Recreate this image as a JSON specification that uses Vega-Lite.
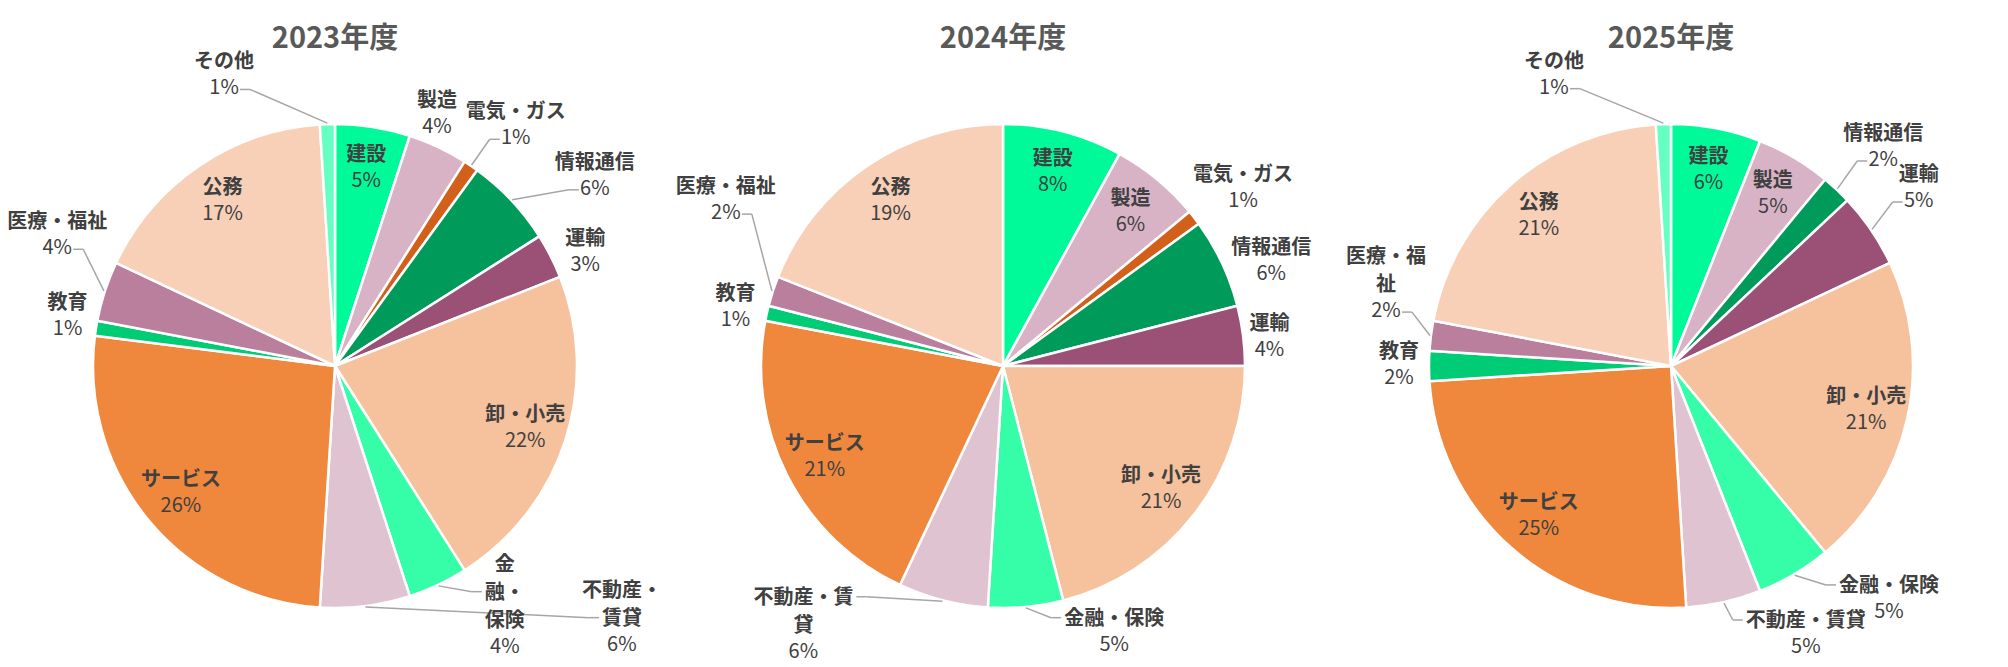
{
  "$schema": "https://vega.github.io/schema/vega-lite/v6.json",
  "padding": {"left": 1, "top": 25, "right": 0, "bottom": 0},
  "bounds": "flush",
  "background": "white",
  "config": {"view": {"stroke": null}, "font": "Noto Sans CJK JP"},
  "data": {
    "values": [
      {"year": "2023年度", "cat": "建設", "value": 5},
      {"year": "2023年度", "cat": "製造", "value": 4},
      {"year": "2023年度", "cat": "電気・ガス", "value": 1},
      {"year": "2023年度", "cat": "情報通信", "value": 6},
      {"year": "2023年度", "cat": "運輸", "value": 3},
      {"year": "2023年度", "cat": "卸・小売", "value": 22},
      {"year": "2023年度", "cat": "金融・保険", "value": 4},
      {"year": "2023年度", "cat": "不動産・賃貸", "value": 6},
      {"year": "2023年度", "cat": "サービス", "value": 26},
      {"year": "2023年度", "cat": "教育", "value": 1},
      {"year": "2023年度", "cat": "医療・福祉", "value": 4},
      {"year": "2023年度", "cat": "公務", "value": 17},
      {"year": "2023年度", "cat": "その他", "value": 1},
      {"year": "2024年度", "cat": "建設", "value": 8},
      {"year": "2024年度", "cat": "製造", "value": 6},
      {"year": "2024年度", "cat": "電気・ガス", "value": 1},
      {"year": "2024年度", "cat": "情報通信", "value": 6},
      {"year": "2024年度", "cat": "運輸", "value": 4},
      {"year": "2024年度", "cat": "卸・小売", "value": 21},
      {"year": "2024年度", "cat": "金融・保険", "value": 5},
      {"year": "2024年度", "cat": "不動産・賃貸", "value": 6},
      {"year": "2024年度", "cat": "サービス", "value": 21},
      {"year": "2024年度", "cat": "教育", "value": 1},
      {"year": "2024年度", "cat": "医療・福祉", "value": 2},
      {"year": "2024年度", "cat": "公務", "value": 19},
      {"year": "2025年度", "cat": "建設", "value": 6},
      {"year": "2025年度", "cat": "製造", "value": 5},
      {"year": "2025年度", "cat": "情報通信", "value": 2},
      {"year": "2025年度", "cat": "運輸", "value": 5},
      {"year": "2025年度", "cat": "卸・小売", "value": 21},
      {"year": "2025年度", "cat": "金融・保険", "value": 5},
      {"year": "2025年度", "cat": "不動産・賃貸", "value": 5},
      {"year": "2025年度", "cat": "サービス", "value": 25},
      {"year": "2025年度", "cat": "教育", "value": 2},
      {"year": "2025年度", "cat": "医療・福祉", "value": 2},
      {"year": "2025年度", "cat": "公務", "value": 21},
      {"year": "2025年度", "cat": "その他", "value": 1}
    ]
  },
  "transform": [
    {"calculate": "indexof(['建設','製造','電気・ガス','情報通信','運輸','卸・小売','金融・保険','不動産・賃貸','サービス','教育','医療・福祉','公務','その他'], datum.cat)", "as": "ord"},
    {"joinaggregate": [{"op": "sum", "field": "value", "as": "tot"}], "groupby": ["year"]},
    {"window": [{"op": "sum", "field": "value", "as": "cum"}], "sort": [{"field": "ord", "order": "ascending"}], "groupby": ["year"], "frame": [null, 0]},
    {"calculate": "(datum.cum - datum.value) / datum.tot * 100", "as": "t0"},
    {"calculate": "datum.cum / datum.tot * 100", "as": "t1"},
    {"calculate": "(datum.cum - datum.value / 2) / datum.tot * 360", "as": "mid"},
    {"calculate": "({'2023年度|その他': [-19.1, 311, 1, ''], '2023年度|製造': [-3.2, 272, 0, ''], '2023年度|電気・ガス': [2.7, 301, 1, ''], '2023年度|情報通信': [7, 322, 1, ''], '2023年度|運輸': [2.5, 275, 0, ''], '2023年度|金融・保険': [-7.2, 317, 1, '金|融・|保険'], '2023年度|不動産・賃貸': [-40, 391, 1, '不動産・|賃貸'], '2023年度|教育': [1.5, 272, 0, ''], '2023年度|医療・福祉': [7.2, 307, 1, ''], '2024年度|電気・ガス': [1.2, 299, 0, ''], '2024年度|情報通信': [3.8, 288, 0, ''], '2024年度|運輸': [1, 268, 0, ''], '2024年度|金融・保険': [-17.3, 288, 1, ''], '2024年度|不動産・賃貸': [21.8, 338, 1, '不動産・賃|貸'], '2024年度|教育': [-0.2, 274, 0, ''], '2024年度|医療・福祉': [12.9, 323, 1, ''], '2025年度|その他': [-20.1, 314, 1, ''], '2025年度|情報通信': [0.9, 305, 1, ''], '2025年度|運輸': [-1.5, 305, 1, ''], '2025年度|金融・保険': [-12.5, 319, 1, ''], '2025年度|不動産・賃貸': [-14.1, 300, 1, ''], '2025年度|教育': [0.2, 272, 0, ''], '2025年度|医療・福祉': [6.2, 293, 1, '医療・福|祉']})[datum.year + '|' + datum.cat]", "as": "ov"},
    {"calculate": "isValid(datum.ov)", "as": "out"},
    {"calculate": "(datum.out ? datum.mid + datum.ov[0] : datum.mid) * PI / 180", "as": "la"},
    {"calculate": "datum.out ? datum.ov[1] : 200", "as": "lr"},
    {"calculate": "datum.lr * sin(datum.la)", "as": "ax"},
    {"calculate": "datum.lr * cos(datum.la)", "as": "ay"},
    {"calculate": "split(datum.out && datum.ov[3] != '' ? datum.ov[3] : datum.cat, '|')", "as": "nameLines"},
    {"calculate": "length(datum.nameLines)", "as": "nl"},
    {"calculate": "datum.ay + 3 + (datum.nl - 1) * 28", "as": "nameY"},
    {"calculate": "datum.ay - 3", "as": "pctY"},
    {"calculate": "datum.value + '%'", "as": "pct"},
    {"calculate": "datum.out && datum.ov[2] == 1", "as": "lead"},
    {"calculate": "243 * sin(datum.mid * PI / 180)", "as": "ex"},
    {"calculate": "243 * cos(datum.mid * PI / 180)", "as": "ey"},
    {"calculate": "clamp(round((datum.ey - datum.ay - 14) / 28), -1, datum.nl - 1)", "as": "j"},
    {"calculate": "datum.ay + 14 + datum.j * 28", "as": "cy"},
    {"calculate": "datum.j < 0 ? length(datum.pct) * 6.5 : length(datum.nameLines[datum.nl - 1 - datum.j]) * 10", "as": "hw"},
    {"calculate": "datum.ex < datum.ax ? datum.ax - datum.hw - 3 : datum.ax + datum.hw + 3", "as": "tx"},
    {"calculate": "datum.ex < datum.ax ? datum.tx - 10 : datum.tx + 10", "as": "bx"}
  ],
  "facet": {
    "column": {
      "field": "year",
      "type": "nominal",
      "title": null,
      "header": {
        "labelFont": "Noto Sans CJK JP",
        "labelFontSize": 29,
        "labelFontWeight": "bold",
        "labelColor": "#595959",
        "labelPadding": -25
      }
    }
  },
  "spacing": 0,
  "spec": {
    "width": 668,
    "height": 642,
    "layer": [
      {
        "mark": {"type": "arc", "outerRadius": 242, "stroke": "white", "strokeWidth": 2.5},
        "encoding": {
          "x": {"datum": 0, "type": "quantitative", "axis": null, "scale": {"domain": [-334, 334], "nice": false, "zero": false}},
          "y": {"datum": 0, "type": "quantitative", "axis": null, "scale": {"domain": [-305, 337], "nice": false, "zero": false}},
          "theta": {"field": "t0", "type": "quantitative", "scale": {"domain": [0, 100], "range": [0, 6.283185307]}},
          "theta2": {"field": "t1"},
          "color": {
            "field": "cat",
            "type": "nominal",
            "legend": null,
            "scale": {
              "domain": ["建設", "製造", "電気・ガス", "情報通信", "運輸", "卸・小売", "金融・保険", "不動産・賃貸", "サービス", "教育", "医療・福祉", "公務", "その他"],
              "range": ["#00FA9A", "#D8B3C5", "#D2601A", "#009B5B", "#9B5076", "#F6C19D", "#36FDA8", "#DFC3D1", "#EF873D", "#00CC76", "#B97F9C", "#F7D0B7", "#66FFC2"]
            }
          }
        }
      },
      {
        "transform": [{"filter": "datum.lead"}],
        "mark": {"type": "rule", "color": "#A6A6A6", "strokeWidth": 1.5},
        "encoding": {
          "x": {"field": "ex", "type": "quantitative"},
          "y": {"field": "ey", "type": "quantitative"},
          "x2": {"field": "bx"},
          "y2": {"field": "cy"}
        }
      },
      {
        "transform": [{"filter": "datum.lead"}],
        "mark": {"type": "rule", "color": "#A6A6A6", "strokeWidth": 1.5},
        "encoding": {
          "x": {"field": "bx", "type": "quantitative"},
          "y": {"field": "cy", "type": "quantitative"},
          "x2": {"field": "tx"},
          "y2": {"field": "cy"}
        }
      },
      {
        "mark": {"type": "text", "font": "Noto Sans CJK JP", "fontSize": 20, "fontWeight": "bold", "color": "#404040", "baseline": "bottom", "align": "center", "lineHeight": 28},
        "encoding": {
          "x": {"field": "ax", "type": "quantitative"},
          "y": {"field": "nameY", "type": "quantitative"},
          "text": {"field": "nameLines", "type": "nominal"}
        }
      },
      {
        "mark": {"type": "text", "font": "Noto Sans CJK JP", "fontSize": 20, "color": "#404040", "baseline": "top", "align": "center"},
        "encoding": {
          "x": {"field": "ax", "type": "quantitative"},
          "y": {"field": "pctY", "type": "quantitative"},
          "text": {"field": "pct", "type": "nominal"}
        }
      }
    ]
  }
}
